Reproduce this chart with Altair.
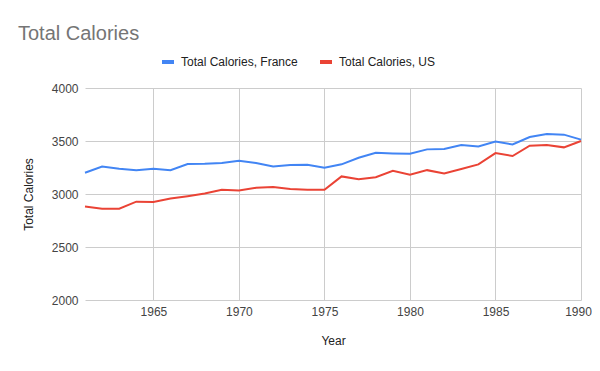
import altair as alt
import pandas as pd

years = list(range(1961, 1991))
france = [3200, 3260, 3238, 3225, 3238, 3225, 3282, 3285, 3292, 3314,
          3292, 3260, 3273, 3276, 3247, 3280, 3342, 3389, 3383, 3380,
          3421, 3424, 3462, 3449, 3494, 3468, 3538, 3566, 3560, 3513]
us = [2881, 2862, 2862, 2928, 2925, 2957, 2979, 3004, 3039, 3033,
      3058, 3067, 3048, 3039, 3039, 3166, 3140, 3159, 3219, 3181,
      3225, 3194, 3235, 3279, 3386, 3358, 3456, 3462, 3440, 3500]
series_names = ["Total Calories, France", "Total Calories, US"]
series_colors = ["#4285F4", "#EA4335"]
x_ticks = [1965, 1970, 1975, 1980, 1985, 1990]
y_ticks = [2000, 2500, 3000, 3500, 4000]

rows = []
for i, yr in enumerate(years):
    rows.append({"Year": yr, "value": france[i], "series": series_names[0]})
    rows.append({"Year": yr, "value": us[i], "series": series_names[1]})
df = pd.DataFrame(rows)

FONT = "Liberation Sans"

chart = alt.Chart(df).mark_line(strokeWidth=2).encode(
    x=alt.X("Year:Q",
            scale=alt.Scale(domain=[1961, 1990], nice=False, zero=False),
            axis=alt.Axis(values=x_ticks, format="d", title="Year",
                          labelFontSize=12, labelColor="#444444", labelPadding=6,
                          labelFlush=False, labelOverlap=False,
                          labelOffset={"condition": {"test": "datum.value == 1990", "value": -3}, "value": 0},
                          titleFontSize=12, titleColor="#222222", titleFontWeight="normal",
                          titlePadding=18, ticks=False, domain=False,
                          gridColor="#cccccc", labelFont=FONT, titleFont=FONT)),
    y=alt.Y("value:Q",
            scale=alt.Scale(domain=[2000, 4000], nice=False, zero=False),
            axis=alt.Axis(values=y_ticks, format="d", title="Total Calories",
                          labelFontSize=12, labelColor="#444444", labelPadding=7,
                          titleFontSize=12, titleColor="#222222", titleFontWeight="normal",
                          titlePadding=16, ticks=False, domain=False,
                          gridColor="#cccccc", labelFont=FONT, titleFont=FONT)),
    color=alt.Color("series:N",
                    scale=alt.Scale(domain=series_names, range=series_colors),
                    legend=alt.Legend(title=None, orient="none", direction="horizontal",
                                      legendX=75, legendY=-34,
                                      symbolType="stroke", symbolStrokeWidth=4,
                                      symbolSize=144, labelFontSize=12,
                                      labelColor="#222222", labelFont=FONT,
                                      labelOffset=5, columnPadding=14)),
).properties(
    width=496,
    height=212,
    autosize=alt.AutoSizeParams(type="none"),
    padding={"left": 77, "top": 80, "right": 11, "bottom": 63},
    title=alt.TitleParams("Total Calories", anchor="start", frame="group",
                          dx=-67, offset=10, fontSize=20, color="#757575",
                          font=FONT, fontWeight="normal"),
).configure_view(stroke=None)

chart.save("out.html", embed_options={"renderer": "svg", "actions": False})
